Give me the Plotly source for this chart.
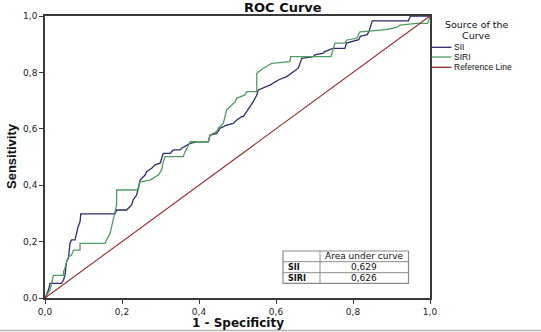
import plotly.graph_objects as go

# ---------------- data ----------------
sii_fpr = [0.0, 0.009, 0.013, 0.043, 0.048, 0.052, 0.056, 0.061, 0.065, 0.069, 0.078, 0.082,
           0.086, 0.091, 0.093, 0.182, 0.186, 0.212, 0.216, 0.225, 0.229, 0.238, 0.247, 0.26,
           0.264, 0.277, 0.286, 0.299, 0.307, 0.325, 0.333, 0.351, 0.355, 0.377, 0.394, 0.424,
           0.429, 0.446, 0.455, 0.472, 0.489, 0.498, 0.511, 0.515, 0.532, 0.541, 0.55, 0.554,
           0.584, 0.606, 0.628, 0.649, 0.658, 0.667, 0.697, 0.701, 0.723, 0.725, 0.748, 0.779,
           0.783, 0.815, 0.819, 0.837, 0.842, 0.85, 0.944, 0.949, 1.0]
sii_tpr = [0.0, 0.028, 0.052, 0.052, 0.064, 0.082, 0.129, 0.142, 0.194, 0.206, 0.206, 0.229,
           0.253, 0.27, 0.298, 0.298, 0.312, 0.312, 0.318, 0.33, 0.348, 0.365, 0.418, 0.436,
           0.448, 0.46, 0.472, 0.478, 0.513, 0.513, 0.525, 0.525, 0.531, 0.548, 0.554, 0.554,
           0.578, 0.584, 0.602, 0.613, 0.619, 0.631, 0.643, 0.643, 0.678, 0.696, 0.72, 0.738,
           0.755, 0.773, 0.785, 0.808, 0.815, 0.85, 0.856, 0.862, 0.868, 0.873, 0.885, 0.885,
           0.904, 0.916, 0.928, 0.934, 0.947, 0.983, 0.983, 1.0, 1.0]

siri_fpr = [0.0, 0.004, 0.013, 0.017, 0.022, 0.048, 0.048, 0.052, 0.056, 0.061, 0.069, 0.074,
            0.091, 0.091, 0.156, 0.16, 0.169, 0.173, 0.177, 0.182, 0.186, 0.186, 0.242, 0.247,
            0.273, 0.294, 0.303, 0.307, 0.312, 0.359, 0.364, 0.372, 0.377, 0.424, 0.429, 0.446,
            0.45, 0.463, 0.468, 0.472, 0.494, 0.498, 0.519, 0.524, 0.55, 0.55, 0.567, 0.589,
            0.636, 0.638, 0.743, 0.749, 0.753, 0.779, 0.784, 0.81, 0.818, 0.87, 0.891, 0.913,
            0.922, 0.965, 0.994, 1.0]
siri_tpr = [0.0, 0.01, 0.028, 0.052, 0.08, 0.08, 0.093, 0.106, 0.129, 0.146, 0.152, 0.17,
            0.17, 0.194, 0.194, 0.206, 0.229, 0.253, 0.283, 0.306, 0.33, 0.383, 0.383, 0.412,
            0.418, 0.436, 0.454, 0.483, 0.501, 0.501, 0.519, 0.543, 0.554, 0.554, 0.578, 0.59,
            0.602, 0.619, 0.643, 0.667, 0.696, 0.708, 0.72, 0.732, 0.732, 0.797, 0.815, 0.832,
            0.838, 0.856, 0.856, 0.885, 0.904, 0.904, 0.915, 0.921, 0.944, 0.95, 0.953, 0.96,
            0.968, 0.974, 0.974, 1.0]

ref_x = [0.0, 1.0]
ref_y = [0.0, 1.0]

series_names = ["SII", "SIRI", "Reference Line"]
auc_values = ["0,629", "0,626"]
tick_vals = [0.0, 0.2, 0.4, 0.6, 0.8, 1.0]
tick_text = ["0,0", "0,2", "0,4", "0,6", "0,8", "1,0"]

# ---------------- style ----------------
C_SII = "#2c2c6c"
C_SIRI = "#4f9e5f"
C_REF = "#962b2b"
AX = "#3a3a3a"
W, H = 541, 332
ML, MR, MT, MB = 45, 111, 16, 34
PW, PH = W - ML - MR, H - MT - MB


def px(x):
    return (x - ML) / PW


def py(y):
    return (H - MB - y) / PH


fig = go.Figure()
fig.add_trace(go.Scatter(x=sii_fpr, y=sii_tpr, mode="lines", name=series_names[0],
                         line=dict(color=C_SII, width=1.3)))
fig.add_trace(go.Scatter(x=siri_fpr, y=siri_tpr, mode="lines", name=series_names[1],
                         line=dict(color=C_SIRI, width=1.3)))
fig.add_trace(go.Scatter(x=ref_x, y=ref_y, mode="lines", name=series_names[2],
                         line=dict(color=C_REF, width=1.1)))

axis_common = dict(range=[0, 1], tickvals=tick_vals, ticktext=tick_text, showgrid=False,
                   zeroline=False, showline=True, linecolor=AX, linewidth=1.5, mirror=True,
                   ticks="outside", ticklen=4, tickcolor=AX, tickwidth=1,
                   tickfont=dict(family="DejaVu Sans", size=9, color="#222"), fixedrange=True)
fig.update_xaxes(**axis_common)
fig.update_yaxes(**axis_common)

ann = []
ann.append(dict(text="<b>ROC Curve</b>", x=px(283), y=py(8), xref="paper", yref="paper",
                showarrow=False, font=dict(family="DejaVu Sans", size=13, color="#111"),
                xanchor="center", yanchor="middle"))
ann.append(dict(text="<b>1 - Specificity</b>", x=0.5, y=py(323), xref="paper", yref="paper",
                showarrow=False, font=dict(family="DejaVu Sans", size=12, color="#111"),
                xanchor="center", yanchor="middle"))
ann.append(dict(text="<b>Sensitivity</b>", x=px(11), y=py(156), xref="paper", yref="paper",
                showarrow=False, textangle=-90,
                font=dict(family="Liberation Sans Narrow, Liberation Sans", size=13, color="#111"),
                xanchor="center", yanchor="middle"))
# legend (manual, compact as in the reference)
ann.append(dict(text="Source of the", x=px(477), y=py(24), xref="paper", yref="paper",
                showarrow=False, font=dict(family="DejaVu Sans", size=9.5, color="#111"),
                xanchor="center", yanchor="middle", borderpad=0))
ann.append(dict(text="Curve", x=px(476), y=py(35), xref="paper", yref="paper",
                showarrow=False, font=dict(family="DejaVu Sans", size=9.5, color="#111"),
                xanchor="center", yanchor="middle", borderpad=0))
shapes = []
leg_y = [47.3, 57, 67.3]
leg_c = [C_SII, C_SIRI, C_REF]
for name, yy, cc in zip(series_names, leg_y, leg_c):
    shapes.append(dict(type="line", xref="paper", yref="paper", x0=px(431.5), x1=px(451.5),
                       y0=py(yy), y1=py(yy), line=dict(color=cc, width=1.3)))
    ann.append(dict(text=name, x=px(452.5), y=py(yy), xref="paper", yref="paper",
                    showarrow=False,
                    font=dict(family="Liberation Sans Narrow, Liberation Sans", size=8.5, color="#111"),
                    xanchor="left", yanchor="middle", borderpad=0))

# AUC table
tx0, tx1, tx2 = px(283), px(320), px(408.5)
ty0, ty1, ty2, ty3 = py(251), py(261.7), py(272.7), py(283.3)
TB = "#8a8a8a"
shapes.append(dict(type="rect", xref="paper", yref="paper", x0=tx0, x1=tx2, y0=ty3, y1=ty0,
                   line=dict(color=TB, width=1.2), fillcolor="white", layer="above"))
shapes.append(dict(type="line", xref="paper", yref="paper", x0=tx1, x1=tx1, y0=ty3, y1=ty0,
                   line=dict(color=TB, width=1)))
for yy in (ty1, ty2):
    shapes.append(dict(type="line", xref="paper", yref="paper", x0=tx0, x1=tx2, y0=yy, y1=yy,
                       line=dict(color=TB, width=1)))
cx = (tx1 + tx2) / 2
ann.append(dict(text="Area under curve", x=cx, y=(ty0 + ty1) / 2, xref="paper", yref="paper",
                showarrow=False, font=dict(family="DejaVu Sans", size=9, color="#111"),
                xanchor="center", yanchor="middle"))
for name, val, (ya, yb) in zip(series_names[:2], auc_values, [(ty1, ty2), (ty2, ty3)]):
    ann.append(dict(text="<b>" + name + "</b>", x=px(286), y=(ya + yb) / 2, xref="paper",
                    yref="paper", showarrow=False,
                    font=dict(family="DejaVu Sans", size=8, color="#111"),
                    xanchor="left", yanchor="middle"))
    ann.append(dict(text=val, x=cx, y=(ya + yb) / 2, xref="paper", yref="paper",
                    showarrow=False, font=dict(family="DejaVu Sans", size=9, color="#111"),
                    xanchor="center", yanchor="middle"))

# faint image border at the bottom
shapes.append(dict(type="line", xref="paper", yref="paper", x0=px(0), x1=px(W), y0=py(330.5),
                   y1=py(330.5), line=dict(color="#b5b5b5", width=1.5)))

fig.update_layout(width=W, height=H, margin=dict(l=ML, r=MR, t=MT, b=MB, pad=0),
                  paper_bgcolor="white", plot_bgcolor="white", showlegend=False,
                  annotations=ann, shapes=shapes)

fig.write_html("out.html")
